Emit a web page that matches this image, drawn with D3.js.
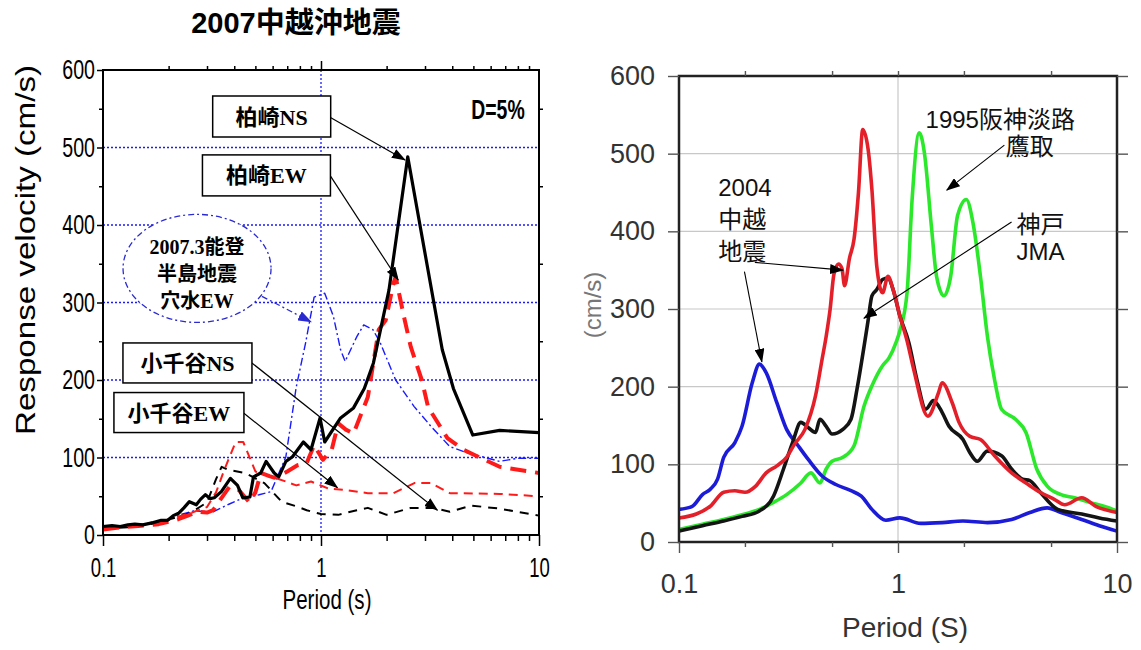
<!DOCTYPE html>
<html>
<head>
<meta charset="utf-8">
<script src="https://cdn.jsdelivr.net/npm/d3@7"></script>
<style>
  body { margin: 0; background: #fff; }
  svg { display: block; }
</style>
</head>
<body>
<svg id="chart" width="1141" height="650"></svg>
<script>
// ---- left panel data: 2007 Chuetsu-oki, [period (s), velocity (cm/s)] ----
const kashiwazakiNS = [[0.1,11],[0.11,12],[0.12,11],[0.13,13],[0.14,14],[0.152,13],[0.17,16],[0.185,19],[0.198,19],[0.21,25],[0.222,28],[0.235,35],[0.249,43],[0.268,39],[0.28,46],[0.295,52],[0.31,47],[0.324,48],[0.349,56],[0.384,73],[0.414,64],[0.438,48],[0.472,49],[0.49,75],[0.529,80],[0.56,95],[0.61,80],[0.64,75],[0.69,95],[0.74,101],[0.83,120],[0.9,110],[0.99,151],[1.04,120],[1.23,151],[1.41,164],[1.58,189],[1.74,222],[2.05,316],[2.5,488],[3.6,239],[4.05,189],[4.97,129],[6.6,135],[10,132]];
const kashiwazakiEW = [[0.1,7],[0.12,10],[0.15,12],[0.18,14],[0.2,17],[0.22,20],[0.24,24],[0.27,30],[0.3,29],[0.32,32],[0.35,48],[0.38,62],[0.42,58],[0.47,42],[0.5,55],[0.53,80],[0.58,76],[0.61,74],[0.66,78],[0.7,82],[0.78,90],[0.86,93],[0.93,116],[1.02,97],[1.12,110],[1.2,144],[1.3,136],[1.41,131],[1.64,178],[1.84,265],[1.98,277],[2.15,325],[2.2,333],[2.4,282],[2.58,243],[2.9,200],[3.1,165],[3.8,125],[4.5,110],[6.6,88],[10,80]];
const anamizuEW = [[0.1,10],[0.13,12],[0.16,15],[0.2,20],[0.23,27],[0.26,31],[0.32,30],[0.38,40],[0.44,48],[0.52,52],[0.59,56],[0.69,101],[0.77,191],[0.85,248],[0.93,307],[1.04,312],[1.14,282],[1.23,239],[1.29,224],[1.46,256],[1.57,271],[1.73,265],[1.87,248],[2.2,200],[2.67,166],[3.2,140],[3.9,114],[4.7,106],[6.6,95],[8,99],[10,99]];
const ojiyaNS = [[0.1,8],[0.13,10],[0.16,13],[0.2,20],[0.25,28],[0.3,42],[0.33,72],[0.35,88],[0.376,84],[0.45,80],[0.55,67],[0.66,43],[0.77,37],[0.86,32],[1.0,27],[1.2,26],[1.46,32],[1.64,35],[2.0,26],[2.58,35],[3.3,35],[3.9,30],[4.9,38],[6.6,34],[10,25]];
const ojiyaEW = [[0.1,10],[0.13,12],[0.16,15],[0.2,20],[0.25,28],[0.3,36],[0.33,55],[0.36,84],[0.406,120],[0.44,120],[0.5,82],[0.58,76],[0.69,69],[0.77,64],[0.9,69],[1.08,60],[1.3,58],[1.64,54],[2.15,54],[2.68,67],[3.2,67],[3.9,54],[6.6,53],[10,50]];

// ---- right panel data ----
const chuetsu2004Blue = [[0.1,42],[0.115,46],[0.128,61],[0.139,68],[0.15,81],[0.16,109],[0.18,128],[0.194,149],[0.216,205],[0.233,229],[0.25,218],[0.28,179],[0.31,145],[0.35,124],[0.39,106],[0.45,85],[0.52,74],[0.61,66],[0.68,59],[0.76,42],[0.88,28],[1.02,31],[1.27,24],[1.59,25],[1.98,27],[2.56,25],[3.3,29],[4.0,38],[4.8,44],[5.55,38],[6.9,29],[8.3,21],[10,14]];
const chuetsu2004Red = [[0.1,31],[0.12,36],[0.139,46],[0.16,64],[0.18,66],[0.2,64],[0.224,72],[0.25,89],[0.28,98],[0.31,109],[0.337,126],[0.376,145],[0.42,188],[0.45,235],[0.47,265],[0.49,300],[0.51,345],[0.535,358],[0.555,352],[0.57,330],[0.6,365],[0.63,390],[0.66,450],[0.69,531],[0.73,506],[0.76,454],[0.8,355],[0.85,321],[0.9,342],[0.95,325],[1.02,291],[1.1,259],[1.18,222],[1.37,162],[1.53,192],[1.59,205],[1.77,179],[1.9,154],[2.13,136],[2.38,132],[2.76,111],[3.3,89],[3.84,76],[4.46,64],[5.17,55],[5.77,48],[6.9,57],[8.0,46],[10,38]];
const kobeJMA = [[0.1,14],[0.128,21],[0.16,27],[0.194,33],[0.233,40],[0.27,59],[0.3,94],[0.33,128],[0.36,154],[0.39,147],[0.42,141],[0.44,158],[0.47,149],[0.5,139],[0.56,145],[0.61,158],[0.65,197],[0.7,252],[0.73,285],[0.76,317],[0.8,325],[0.85,338],[0.9,340],[0.95,325],[1.02,291],[1.12,257],[1.22,209],[1.34,171],[1.45,182],[1.59,167],[1.71,149],[1.98,132],[2.13,115],[2.3,104],[2.56,117],[2.97,111],[3.3,94],[3.7,81],[4.0,79],[4.46,64],[5.36,42],[6.9,36],[8.3,31],[10,27]];
const takatori = [[0.1,16],[0.128,23],[0.16,29],[0.2,36],[0.233,42],[0.27,51],[0.31,61],[0.36,76],[0.4,89],[0.44,76],[0.47,94],[0.5,104],[0.56,109],[0.63,124],[0.7,175],[0.76,201],[0.85,227],[0.91,237],[0.98,257],[1.02,272],[1.1,321],[1.16,441],[1.25,527],[1.32,501],[1.42,407],[1.5,342],[1.62,317],[1.74,342],[1.87,420],[2.05,441],[2.2,411],[2.38,342],[2.56,265],[2.76,209],[2.97,171],[3.44,158],[3.84,141],[4.3,94],[4.8,72],[5.55,61],[6.4,57],[7.5,51],[8.7,46],[10,40]];

const yTicks = [0, 100, 200, 300, 400, 500, 600];
const yGrid = [100, 200, 300, 400, 500];
const yMinorLeft = [50, 150, 250, 350, 450, 550];
const xTicks = [0.1, 1, 10];
const xMinorLeft = [0.2,0.3,0.4,0.5,0.6,0.7,0.8,0.9,2,3,4,5,6,7,8,9];
const xMinorRight = [0.2, 0.5, 2, 5];

const sans = "'Liberation Sans', Arial, 'Noto Sans CJK JP', sans-serif";
const serif = "'Liberation Serif', 'Times New Roman', 'Noto Sans CJK JP', serif";

const svg = d3.select("#chart");

// squash text horizontally, the left figure uses a condensed face
function squeeze(sel, k) {
  sel.each(function () {
    const len = this.getComputedTextLength();
    d3.select(this).attr("textLength", len * k).attr("lengthAdjust", "spacingAndGlyphs");
  });
}

const defs = svg.append("defs");
function arrowMarker(id, color) {
  defs.append("marker")
    .attr("id", id).attr("markerUnits", "userSpaceOnUse")
    .attr("markerWidth", 14).attr("markerHeight", 10)
    .attr("refX", 13).attr("refY", 5).attr("orient", "auto")
    .append("path").attr("d", "M0,0 L14,5 L0,10 Z").attr("fill", color);
}
arrowMarker("headBlack", "#000");
arrowMarker("headBlue", "#2a2ad0");

// ================= left panel =================
const L = { left: 103, right: 539, top: 70, bottom: 535 };
const xL = d3.scaleLog().domain([0.1, 10]).range([L.left, L.right]);
const yL = d3.scaleLinear().domain([0, 600]).range([L.bottom, L.top]);
const gL = svg.append("g");

gL.append("text")
  .attr("x", 296).attr("y", 33).attr("text-anchor", "middle")
  .attr("font-family", sans).attr("font-weight", "bold").attr("font-size", 29)
  .text("2007中越沖地震");

// grid
gL.selectAll(".hg").data(yGrid).join("line")
  .attr("x1", L.left).attr("x2", L.right)
  .attr("y1", d => yL(d)).attr("y2", d => yL(d))
  .attr("stroke", "#1a1aff").attr("stroke-width", 1.3).attr("stroke-dasharray", "2,2");
gL.append("line")
  .attr("x1", xL(1)).attr("x2", xL(1)).attr("y1", L.top).attr("y2", L.bottom)
  .attr("stroke", "#1a1aff").attr("stroke-width", 1.3).attr("stroke-dasharray", "2,2");

const lineL = d3.line().x(d => xL(d[0])).y(d => yL(d[1]));
const leftSeries = [
  { data: anamizuEW, color: "#1a1aff", width: 1.4, dash: "8,3,2,3" },
  { data: ojiyaNS, color: "#000", width: 2, dash: "9,7" },
  { data: ojiyaEW, color: "#ff1a1a", width: 2, dash: "9,6" },
  { data: kashiwazakiEW, color: "#ff1a1a", width: 4, dash: "16,9" },
  { data: kashiwazakiNS, color: "#000", width: 3.2, dash: null }
];
gL.selectAll(".ser").data(leftSeries).join("path")
  .attr("d", d => lineL(d.data))
  .attr("fill", "none")
  .attr("stroke", d => d.color)
  .attr("stroke-width", d => d.width)
  .attr("stroke-dasharray", d => d.dash)
  .attr("stroke-linejoin", "round");

// frame
gL.append("rect")
  .attr("x", L.left).attr("y", L.top)
  .attr("width", L.right - L.left).attr("height", L.bottom - L.top)
  .attr("fill", "none").attr("stroke", "#000").attr("stroke-width", 2);

// axes
const axL = gL.append("g").attr("transform", `translate(${L.left},0)`)
  .call(d3.axisLeft(yL).tickValues(yTicks).tickSize(6).tickPadding(2));
gL.append("g").attr("transform", `translate(${L.left},0)`)
  .call(d3.axisLeft(yL).tickValues(yMinorLeft).tickSize(4).tickFormat(""));
gL.append("g").attr("transform", `translate(${L.right},0)`)
  .call(d3.axisRight(yL).tickValues(yMinorLeft).tickSize(4).tickFormat(""));
const axB = gL.append("g").attr("transform", `translate(0,${L.bottom})`)
  .call(d3.axisBottom(xL).tickValues(xTicks).tickSize(11).tickPadding(11).tickFormat(d => String(d)));
gL.append("g").attr("transform", `translate(0,${L.bottom})`)
  .call(d3.axisBottom(xL).tickValues(xMinorLeft).tickSize(6).tickFormat(""));
gL.append("g").attr("transform", `translate(0,${L.top})`)
  .call(d3.axisTop(xL).tickValues(xMinorLeft).tickSize(4).tickFormat(""));
gL.append("g").attr("transform", `translate(0,${L.top})`)
  .call(d3.axisTop(xL).tickValues([1]).tickSize(9).tickFormat(""));
gL.selectAll(".domain").remove();
gL.selectAll(".tick line").attr("stroke", "#000").attr("stroke-width", 1.5);
[axL, axB].forEach(a => a.selectAll("text")
  .attr("font-family", sans).attr("font-size", 28).attr("fill", "#000"));
squeeze(axL.selectAll("text"), 0.7);
squeeze(axB.selectAll("text"), 0.66);

const xtL = gL.append("text")
  .attr("x", 327).attr("y", 609).attr("text-anchor", "middle")
  .attr("font-family", sans).attr("font-size", 27).text("Period (s)");
squeeze(xtL, 0.76);

gL.append("text")
  .attr("transform", `translate(35,250) rotate(-90)`)
  .attr("text-anchor", "middle")
  .attr("font-family", sans).attr("font-size", 28)
  .attr("textLength", 370).attr("lengthAdjust", "spacingAndGlyphs")
  .text("Response velocity  (cm/s)");

const dl = gL.append("text")
  .attr("x", xL(8.6)).attr("y", yL(537)).attr("text-anchor", "end")
  .attr("font-family", sans).attr("font-weight", "bold").attr("font-size", 27)
  .text("D=5%");
squeeze(dl, 0.72);

// annotations
const leftBoxes = [
  { text: "柏崎NS", t: 0.594, v: 540, w: 118, h: 41 },
  { text: "柏崎EW", t: 0.562, v: 464, w: 128, h: 41 },
  { text: "小千谷NS", t: 0.244, v: 222, w: 129, h: 40 },
  { text: "小千谷EW", t: 0.223, v: 158, w: 130, h: 40 }
];
const leftArrows = [
  { from: [1.1, 539], to: [2.43, 484] },
  { from: [1.1, 464], to: [2.26, 329] },
  { from: [0.482, 222], to: [3.42, 32] },
  { from: [0.443, 157], to: [1.19, 61] }
];
gL.selectAll(".arr").data(leftArrows).join("line")
  .attr("x1", d => xL(d.from[0])).attr("y1", d => yL(d.from[1]))
  .attr("x2", d => xL(d.to[0])).attr("y2", d => yL(d.to[1]))
  .attr("stroke", "#000").attr("stroke-width", 1.2)
  .attr("marker-end", "url(#headBlack)");
const box = gL.selectAll(".box").data(leftBoxes).join("g")
  .attr("transform", d => `translate(${xL(d.t)},${yL(d.v)})`);
box.append("rect")
  .attr("x", d => -d.w / 2).attr("y", d => -d.h / 2)
  .attr("width", d => d.w).attr("height", d => d.h)
  .attr("fill", "#fff").attr("stroke", "#000").attr("stroke-width", 1.5);
box.append("text")
  .attr("text-anchor", "middle").attr("dy", 8)
  .attr("font-family", serif).attr("font-weight", "bold").attr("font-size", 22)
  .text(d => d.text);

// Noto 2007.3 ellipse
const noto = { t: 0.27, v: 344, rx: 74, ry: 54, lines: ["2007.3能登", "半島地震", "穴水EW"] };
gL.append("line")
  .attr("x1", xL(0.536)).attr("y1", yL(308))
  .attr("x2", xL(0.9)).attr("y2", yL(275))
  .attr("stroke", "#2a2ad0").attr("stroke-width", 1.3).attr("stroke-dasharray", "6,3,2,3")
  .attr("marker-end", "url(#headBlue)");
const ng = gL.append("g").attr("transform", `translate(${xL(noto.t)},${yL(noto.v)})`);
ng.append("ellipse").attr("rx", noto.rx).attr("ry", noto.ry)
  .attr("fill", "#fff").attr("stroke", "#2a2ad0").attr("stroke-width", 1.3)
  .attr("stroke-dasharray", "6,3,2,3");
ng.selectAll("text").data(noto.lines).join("text")
  .attr("text-anchor", "middle").attr("y", (d, i) => -14 + i * 27)
  .attr("font-family", serif).attr("font-weight", "bold").attr("font-size", 20)
  .text(d => d);

// ================= right panel =================
const R = { left: 679, right: 1117, top: 76, bottom: 542 };
const xR = d3.scaleLog().domain([0.1, 10]).range([R.left, R.right]);
const yR = d3.scaleLinear().domain([0, 600]).range([R.bottom, R.top]);
const gR = svg.append("g");

gR.selectAll(".hg").data(yGrid).join("line")
  .attr("x1", R.left).attr("x2", R.right)
  .attr("y1", d => yR(d)).attr("y2", d => yR(d))
  .attr("stroke", "#c8c8c8").attr("stroke-width", 1.2);
gR.append("line")
  .attr("x1", xR(1)).attr("x2", xR(1)).attr("y1", R.top).attr("y2", R.bottom)
  .attr("stroke", "#c8c8c8").attr("stroke-width", 1.2);

const lineR = d3.line().x(d => xR(d[0])).y(d => yR(d[1])).curve(d3.curveMonotoneX);
const rightSeries = [
  { data: takatori, color: "#2be82b" },
  { data: chuetsu2004Blue, color: "#1c1cd8" },
  { data: kobeJMA, color: "#141414" },
  { data: chuetsu2004Red, color: "#e3202a" }
];
gR.selectAll(".ser").data(rightSeries).join("path")
  .attr("d", d => lineR(d.data))
  .attr("fill", "none").attr("stroke", d => d.color)
  .attr("stroke-width", 3.6).attr("stroke-linejoin", "round");

gR.append("rect")
  .attr("x", R.left).attr("y", R.top)
  .attr("width", R.right - R.left).attr("height", R.bottom - R.top)
  .attr("fill", "none").attr("stroke", "#222").attr("stroke-width", 2.5);

const ayR = gR.append("g").attr("transform", `translate(${R.left},0)`)
  .call(d3.axisLeft(yR).tickValues(yTicks).tickSize(11).tickPadding(13));
gR.append("g").attr("transform", `translate(${R.right},0)`)
  .call(d3.axisRight(yR).tickValues(yTicks).tickSize(11).tickFormat(""));
const axR = gR.append("g").attr("transform", `translate(0,${R.bottom})`)
  .call(d3.axisBottom(xR).tickValues(xTicks).tickSize(11).tickPadding(21).tickFormat(d => String(d)));
gR.append("g").attr("transform", `translate(0,${R.bottom})`)
  .call(d3.axisBottom(xR).tickValues(xMinorRight).tickSize(5).tickFormat(""));
gR.append("g").attr("transform", `translate(0,${R.top})`)
  .call(d3.axisTop(xR).tickValues(xMinorRight.concat([1])).tickSize(5).tickFormat(""));
gR.selectAll(".domain").remove();
gR.selectAll(".tick line").attr("stroke", "#555").attr("stroke-width", 1.4);
[ayR, axR].forEach(a => a.selectAll("text")
  .attr("font-family", sans).attr("font-size", 27).attr("fill", "#333"));

gR.append("text")
  .attr("x", xR(1) + 7).attr("y", 637).attr("text-anchor", "middle")
  .attr("font-family", sans).attr("font-size", 28).attr("fill", "#333")
  .text("Period (S)");
gR.append("text")
  .attr("transform", `translate(601,305) rotate(-90)`)
  .attr("text-anchor", "middle")
  .attr("font-family", sans).attr("font-size", 24).attr("fill", "#777")
  .text("(cm/s)");

const rightLabels = [
  { t: 2.93, v: 533, anchor: "middle", gap: 0, lines: ["1995阪神淡路"] },
  { t: 4.0, v: 498, anchor: "middle", gap: 0, lines: ["鷹取"] },
  { t: 0.151, v: 445, anchor: "start", gap: 32, lines: ["2004", "中越", "地震"] },
  { t: 3.48, v: 398, anchor: "start", gap: 27, lines: ["神戸", "JMA"] }
];
const rightArrows = [
  { from: [3.06, 511], to: [1.67, 453] },
  { from: [0.222, 360], to: [0.561, 350] },
  { from: [0.199, 348], to: [0.239, 232] },
  { from: [3.3, 412], to: [0.699, 288] }
];
gR.selectAll(".arr").data(rightArrows).join("line")
  .attr("x1", d => xR(d.from[0])).attr("y1", d => yR(d.from[1]))
  .attr("x2", d => xR(d.to[0])).attr("y2", d => yR(d.to[1]))
  .attr("stroke", "#000").attr("stroke-width", 1.1)
  .attr("marker-end", "url(#headBlack)");
const rl = gR.selectAll(".lab").data(rightLabels).join("text")
  .attr("x", d => xR(d.t)).attr("y", d => yR(d.v))
  .attr("text-anchor", d => d.anchor)
  .attr("font-family", sans).attr("font-size", 24).attr("fill", "#111");
rl.selectAll("tspan").data(d => d.lines.map((s, i) => ({ s, i, x: xR(d.t), gap: d.gap }))).join("tspan")
  .attr("x", d => d.x).attr("dy", d => d.i === 0 ? 0 : d.gap)
  .text(d => d.s);
</script>
</body>
</html>
